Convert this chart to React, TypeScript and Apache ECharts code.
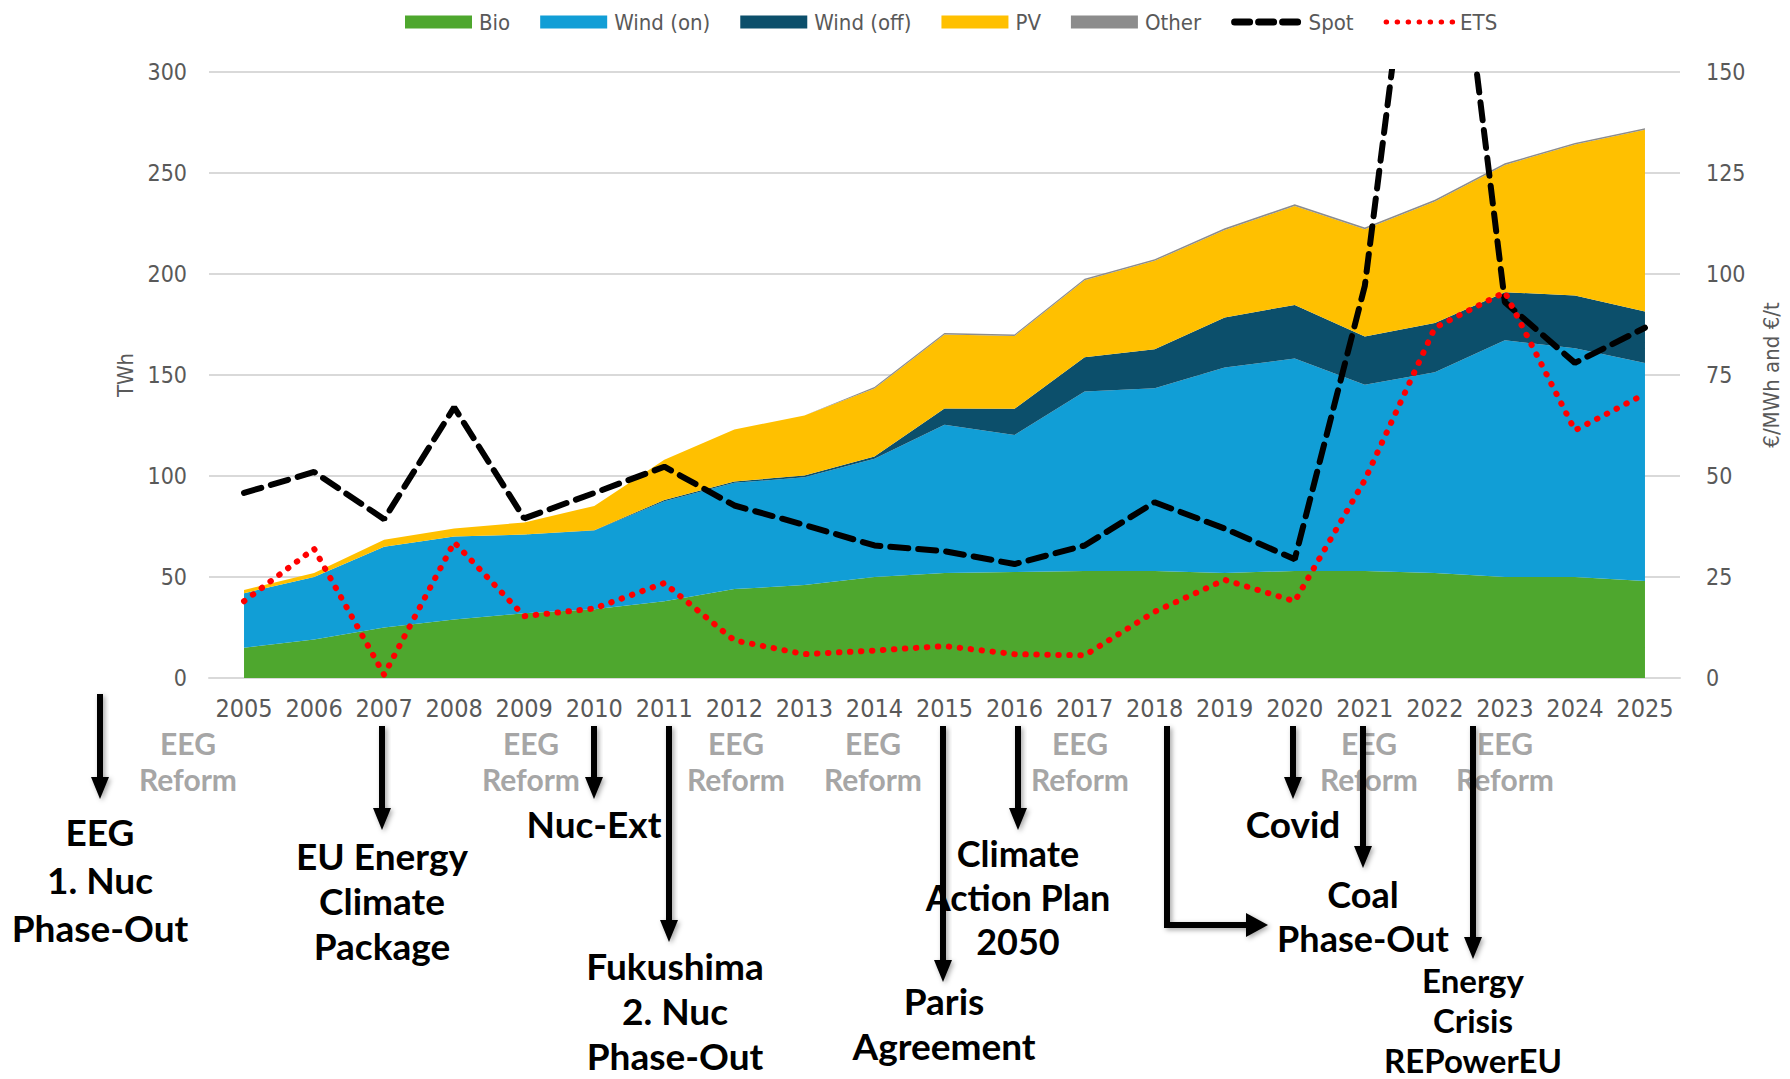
import React, { useEffect, useRef } from "react";
import * as echarts from "echarts";

const years = ["2005","2006","2007","2008","2009","2010","2011","2012","2013","2014","2015","2016","2017","2018","2019","2020","2021","2022","2023","2024","2025"];
const bio = [15,19,25,29,32,34,38,44,46,50,52,52.5,53,53,52,53,53,52,50,50,48];
const windOn = [27,31,40,41,39,39,49.5,52.6,53.4,58.5,73.4,67.8,88.8,90.5,101.7,105.2,92.2,99.4,117.2,113.3,108];
const windOff = [0,0,0,0,0,0.2,0.6,0.7,0.9,1.1,8,13,17,19.2,24.8,26.5,23.8,24.3,23.8,26,25.4];
const pv = [1.6,2,3.5,4,6,12,20,25.7,29.7,33.7,36.6,36,38.1,43.8,43.3,49,53.2,60.2,63,74.8,90];
const other = [0,0,0,0,0,0,0,0,0,0.8,0.8,0.8,0.8,0.8,0.8,0.8,0.8,0.8,0.8,0.8,0.8];
const spot = [45.8,51,39.3,67,39.5,45.8,52.3,42.7,37.9,32.8,31.4,28.2,32.8,43.5,37,29.4,97,235,93,78,86.7];
const ets = [19,32,0.8,33.6,15.3,17.2,23.5,9.3,5.9,6.8,7.9,5.9,5.6,16.4,24.3,19,49,86.7,95.5,61.3,70.3];

const leftTicks = [0, 50, 100, 150, 200, 250, 300];
const rightTicks = [0, 25, 50, 75, 100, 125, 150];

const reformLabels = [188, 531, 736, 873, 1080, 1369, 1505];

// annotation layout: arrow shaft x, y0 -> y1 ; label lines
const arrows = [
  { x: 100, y0: 694, y1: 799 },
  { x: 382, y0: 726, y1: 830 },
  { x: 594, y0: 726, y1: 799 },
  { x: 669, y0: 726, y1: 942 },
  { x: 943, y0: 726, y1: 982 },
  { x: 1018, y0: 726, y1: 830 },
  { x: 1293, y0: 726, y1: 799 },
  { x: 1363, y0: 726, y1: 868 },
  { x: 1473, y0: 726, y1: 959 },
];
const eventLabels = [
  { x: 100, y: 831, lh: 48, fs: 37, text: "EEG\n1. Nuc\nPhase-Out" },
  { x: 382, y: 855, lh: 45, fs: 37, text: "EU Energy\nClimate\nPackage" },
  { x: 594, y: 823, lh: 45, fs: 37, text: "Nuc-Ext" },
  { x: 675, y: 965, lh: 45, fs: 37, text: "Fukushima\n2. Nuc\nPhase-Out" },
  { x: 944, y: 1000, lh: 45, fs: 37, text: "Paris\nAgreement" },
  { x: 1018, y: 853, lh: 44, fs: 36, text: "Climate\nAction Plan\n2050" },
  { x: 1293, y: 823, lh: 45, fs: 37, text: "Covid" },
  { x: 1363, y: 894, lh: 44, fs: 36, text: "Coal\nPhase-Out" },
  { x: 1473, y: 980, lh: 40, fs: 33, text: "Energy\nCrisis\nREPowerEU" },
];

const AXIS_FONT = "'Liberation Sans Narrow', 'Arial Narrow', 'DejaVu Sans Condensed', 'Liberation Sans', sans-serif";
const ANN_FONT = "Lato, 'Noto Sans', sans-serif";

const shadow = { shadowBlur: 5, shadowColor: "rgba(0,0,0,0.35)", shadowOffsetX: 2, shadowOffsetY: 2 };

function arrowShapes(x: number, y0: number, y1: number) {
  const hw = 9, hh = 22;
  return [
    { type: "rect", shape: { x: x - 3, y: y0, width: 6, height: y1 - hh + 2 - y0 }, style: { fill: "#000", ...shadow }, z: 10 },
    { type: "polygon", shape: { points: [[x - hw, y1 - hh], [x + hw, y1 - hh], [x, y1]] }, style: { fill: "#000", ...shadow }, z: 10 },
  ];
}

export default function App() {
  const ref = useRef<HTMLDivElement>(null);
  useEffect(() => {
    document.body.style.margin = "0";
    const chart = echarts.init(ref.current!, undefined, { renderer: "svg" });
    const areaSeries = (name: string, data: number[], color: string) => ({
      name,
      type: "line",
      stack: "gen",
      data,
      symbol: "none",
      lineStyle: { width: 0 },
      areaStyle: { color, opacity: 1 },
      itemStyle: { color },
      z: 2,
    });
    const graphics: any[] = [];
    reformLabels.forEach((x) => {
      graphics.push({
        type: "text", x, y: 761, z: 5,
        style: { text: "EEG\nReform", fill: "#A6A6A6", font: `bold 30px ${ANN_FONT}`, align: "center", verticalAlign: "middle", lineHeight: 36 },
      });
    });
    eventLabels.forEach((l) => {
      const n = l.text.split("\n").length;
      graphics.push({
        type: "text", x: l.x, y: l.y + ((n - 1) * l.lh) / 2, z: 6,
        style: { text: l.text, fill: "#000", font: `bold ${l.fs}px ${ANN_FONT}`, align: "center", verticalAlign: "middle", lineHeight: l.lh },
      });
    });
    arrows.forEach((a) => graphics.push(...arrowShapes(a.x, a.y0, a.y1)));
    // elbow arrow (2018 -> Coal Phase-Out)
    graphics.push(
      { type: "polyline", shape: { points: [[1167, 726], [1167, 925], [1248, 925]] }, style: { stroke: "#000", lineWidth: 6, fill: null, ...shadow }, z: 10 },
      { type: "polygon", shape: { points: [[1246, 913], [1246, 937], [1268, 925]] }, style: { fill: "#000", ...shadow }, z: 10 }
    );

    chart.setOption({
      animation: false,
      textStyle: { fontFamily: AXIS_FONT },
      legend: {
        left: 400,
        top: 6,
        itemWidth: 67,
        itemHeight: 13,
        itemGap: 30,
        textStyle: { color: "#595959", fontSize: 22, fontFamily: AXIS_FONT, padding: [0, 0, 0, 2] },
        data: [
          { name: "Bio", icon: "rect" },
          { name: "Wind (on)", icon: "rect" },
          { name: "Wind (off)", icon: "rect" },
          { name: "PV", icon: "rect" },
          { name: "Other", icon: "rect" },
          { name: "Spot", itemStyle: { opacity: 0 }, lineStyle: { color: "#000", width: 7, type: [15, 9], cap: "round" } },
          { name: "ETS", itemStyle: { opacity: 0 }, lineStyle: { color: "#FF0000", width: 5, type: [0.5, 10.5], cap: "round" } },
        ],
      },
      grid: { left: 209, right: 106, top: 72, bottom: 401, containLabel: false },
      xAxis: {
        type: "category",
        data: years,
        boundaryGap: true,
        axisLine: { lineStyle: { color: "#D9D9D9", width: 2 } },
        axisTick: { show: false },
        axisLabel: { color: "#595959", fontSize: 25, margin: 18, interval: 0, fontFamily: AXIS_FONT },
      },
      yAxis: [
        {
          type: "value",
          min: leftTicks[0],
          max: leftTicks[leftTicks.length - 1],
          interval: 50,
          name: "TWh",
          nameLocation: "middle",
          nameRotate: 90,
          nameGap: 72,
          nameTextStyle: { color: "#595959", fontSize: 22, fontFamily: AXIS_FONT },
          axisLine: { show: false },
          axisTick: { show: false },
          splitLine: { lineStyle: { color: "#D9D9D9", width: 2 } },
          axisLabel: { color: "#595959", fontSize: 23, margin: 22, fontFamily: AXIS_FONT },
        },
        {
          type: "value",
          min: rightTicks[0],
          max: rightTicks[rightTicks.length - 1],
          interval: 25,
          position: "right",
          name: "€/MWh and €/t",
          nameLocation: "middle",
          nameRotate: 90,
          nameGap: 80,
          nameTextStyle: { color: "#595959", fontSize: 22, fontFamily: AXIS_FONT },
          axisLine: { show: false },
          axisTick: { show: false },
          splitLine: { show: false },
          axisLabel: { color: "#595959", fontSize: 23, margin: 26, fontFamily: AXIS_FONT },
        },
      ],
      series: [
        areaSeries("Bio", bio, "#4EA72E"),
        areaSeries("Wind (on)", windOn, "#119ED6"),
        areaSeries("Wind (off)", windOff, "#0C4F6B"),
        areaSeries("PV", pv, "#FFC000"),
        areaSeries("Other", other, "#8C8C8C"),
        {
          name: "Spot",
          type: "line",
          yAxisIndex: 1,
          data: spot,
          symbol: "none",
          clip: true,
          z: 5,
          itemStyle: { color: "#000" },
          lineStyle: { color: "#000", width: 6, type: [18, 10], cap: "round" },
        },
        {
          name: "ETS",
          type: "line",
          yAxisIndex: 1,
          data: ets,
          symbol: "none",
          clip: true,
          z: 5,
          itemStyle: { color: "#FF0000" },
          lineStyle: { color: "#FF0000", width: 6, type: [0.5, 10.5], cap: "round" },
        },
      ],
      graphic: graphics,
    });
    return () => chart.dispose();
  }, []);
  return <div ref={ref} style={{ width: 1790, height: 1079 }} />;
}
